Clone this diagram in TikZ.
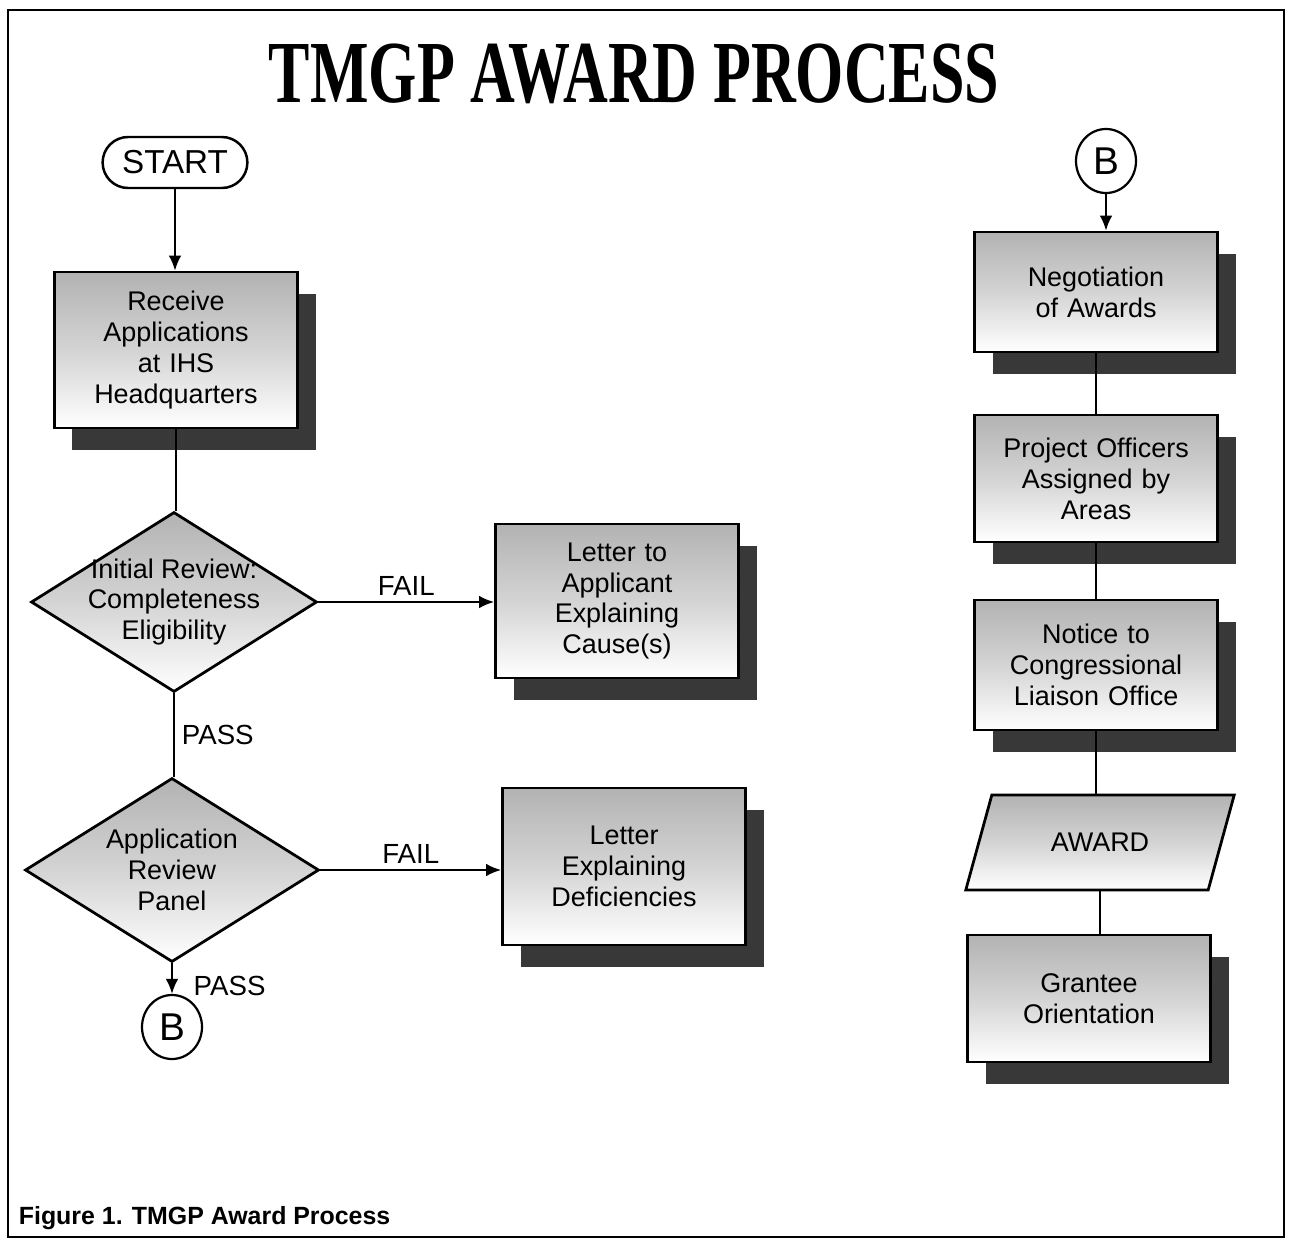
\documentclass[tikz,border=0pt]{standalone}
\usepackage{fontspec}
\setmainfont{Liberation Sans}
\newfontfamily\titleface{Liberation Serif}
\usepackage{graphicx}
\usepackage{tikz}
\usetikzlibrary{shapes.geometric,shapes.misc,shadows,arrows.meta}
\tikzset{>={Latex[width=3.2mm,length=3.8mm]}}
\tikzset{
  halftone/.style={top color=black!30,bottom color=white,middle color=black!17},
  boxtext/.style={font=\fontsize{19.5}{22.3}\selectfont},
  procbox/.style={shape=rectangle,draw,line width=2pt,halftone,boxtext,minimum width=2.43in,text width=2.3in,align=center,
    drop shadow={shadow xshift=0.18in,shadow yshift=-0.22in,fill=black!78,opacity=1}},
  decision/.style={shape=diamond,draw,line width=2pt,halftone,inner sep=0pt},
  terminal/.style={shape=rounded rectangle,draw,line width=1.8pt,fill=white,minimum width=1.54in,minimum height=0.51in,font=\fontsize{24}{24}\selectfont},
  connector/.style={shape=ellipse,draw,line width=1.6pt,fill=white,inner sep=0pt,minimum width=0.60in,minimum height=0.64in,font=\fontsize{28}{28}\selectfont},
  flow/.style={line width=1.4pt},
  verdict/.style={font=\fontsize{20}{20}\selectfont}
}

\begin{document}
\begin{tikzpicture}

\useasboundingbox (0,0) rectangle (12.94in,-12.47in);
\draw[line width=2pt] (0.08in,-0.10in) rectangle (12.84in,-12.37in);

\path (6.34in,-0.74in) node [font=\titleface\bfseries\fontsize{64}{64}\selectfont] (title) {\scalebox{0.70}[1]{TMGP AWARD PROCESS}};

\path (1.75in,-1.625in) node [terminal] (start) {START};
\path (1.76in,-3.50in) node [procbox,minimum height=1.56in] (receive) {Receive\\Applications\\at IHS\\Headquarters};
\path (1.74in,-6.02in) node [decision,minimum width=2.86in,minimum height=1.80in,
  label={[boxtext,align=center]center:{Initial Review:\\Completeness\\Eligibility}}] (initrev) {};
\path (1.72in,-8.70in) node [decision,minimum width=2.94in,minimum height=1.84in,
  label={[boxtext,align=center]center:{Application\\Review\\Panel}}] (panel) {};
\path (1.72in,-10.27in) node [connector] (bleft) {B};

\path (6.17in,-6.01in) node [procbox,minimum height=1.54in] (cause) {Letter to\\Applicant\\Explaining\\Cause(s)};
\path (6.24in,-8.665in) node [procbox,minimum height=1.57in] (deficit) {Letter\\Explaining\\Deficiencies};

\path (11.06in,-1.61in) node [connector] (bright) {B};
\path (10.96in,-2.92in) node [procbox,minimum height=1.20in] (negot) {Negotiation\\of Awards};
\path (10.96in,-4.785in) node [procbox,minimum height=1.27in] (officers) {Project Officers\\Assigned by\\Areas};
\path (10.96in,-6.65in) node [procbox,minimum height=1.30in] (notice) {Notice to\\Congressional\\Liaison Office};
\path (11.00in,-8.425in) node [shape=trapezium,trapezium left angle=65,trapezium right angle=115,trapezium stretches=true,
  draw,line width=2pt,halftone,boxtext,minimum width=2.70in,minimum height=0.95in] (award) {AWARD};
\path (10.89in,-9.985in) node [procbox,minimum height=1.27in] (orient) {Grantee\\Orientation};

\draw[flow,->] (start.south) -- (start.south |- receive.north);
\draw[flow] (receive.south) -- (receive.south |- initrev.north);
\draw[flow,->] (initrev.east) -- (initrev.east -| cause.west) node [verdict,midway,above=1pt] {FAIL};
\draw[flow] (initrev.south) -- (initrev.south |- panel.north) node [verdict,midway,right=4pt,inner sep=1pt] {PASS};
\draw[flow,->] (panel.east) -- (panel.east -| deficit.west) node [verdict,midway,above=1pt] {FAIL};
\draw[flow,->] (panel.south) -- (bleft.north) node [verdict,midway,right=14pt,inner sep=1pt,yshift=-5pt] {PASS};

\draw[flow,->] (bright.south) -- (bright.south |- negot.north);
\draw[flow] (negot.south) -- (officers.north);
\draw[flow] (officers.south) -- (notice.north);
\draw[flow] (notice.south) -- (notice.south |- award.north);
\draw[flow] (award.south) -- (award.south |- orient.north);

\path (0.14in,-12.18in) node [anchor=west,font=\bfseries\fontsize{18}{18}\selectfont] (caption) {Figure 1. TMGP Award Process};

\end{tikzpicture}
\end{document}
